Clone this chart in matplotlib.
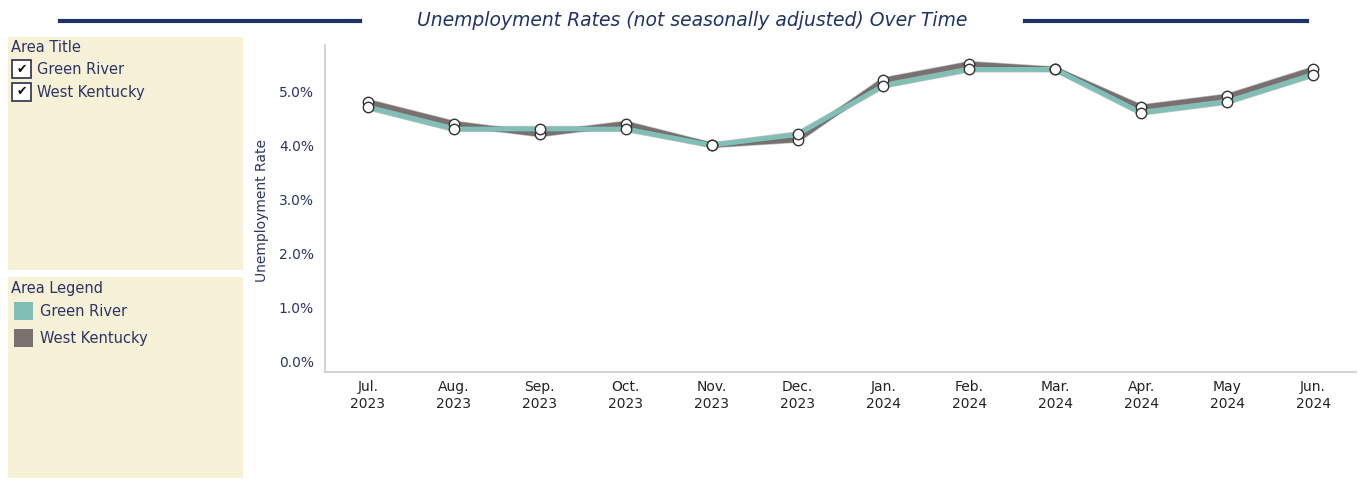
import matplotlib.pyplot as plt
from matplotlib.patches import Rectangle
from matplotlib.lines import Line2D
import matplotlib.patheffects as pe

months = ["Jul.\n2023", "Aug.\n2023", "Sep.\n2023", "Oct.\n2023", "Nov.\n2023", "Dec.\n2023",
          "Jan.\n2024", "Feb.\n2024", "Mar.\n2024", "Apr.\n2024", "May\n2024", "Jun.\n2024"]
green_river = [4.7, 4.3, 4.3, 4.3, 4.0, 4.2, 5.1, 5.4, 5.4, 4.6, 4.8, 5.3]
west_kentucky = [4.8, 4.4, 4.2, 4.4, 4.0, 4.1, 5.2, 5.5, 5.4, 4.7, 4.9, 5.4]
area_names = ["Green River", "West Kentucky"]
area_colors = ["#80bfb6", "#797171"]
yticks = [0, 1, 2, 3, 4, 5]

NAVY = "#1f3466"
TEXT = "#2a3565"
BEIGE = "#f7f1d7"

W, H = 1358, 479
fig = plt.figure(figsize=(W / 100, H / 100), dpi=100)


def fx(px):
    return px / W


def fy(py):
    return 1 - py / H


# title with rules on both sides
fig.text(fx(692), fy(21), "Unemployment Rates (not seasonally adjusted) Over Time",
         ha="center", va="center", style="italic", fontsize=13.5, color=NAVY)
fig.add_artist(Line2D([fx(60), fx(360)], [fy(21), fy(21)], color=NAVY, lw=3))
fig.add_artist(Line2D([fx(1025), fx(1307)], [fy(21), fy(21)], color=NAVY, lw=3))

# left filter / legend panels
fig.add_artist(Rectangle((fx(8), fy(270)), fx(235), fy(37) - fy(270), color=BEIGE, lw=0, zorder=-1))
fig.add_artist(Rectangle((fx(8), fy(478)), fx(235), fy(277) - fy(478), color=BEIGE, lw=0, zorder=-1))

fig.text(fx(11), fy(47), "Area Title", ha="left", va="center", fontsize=10.5, color=TEXT)
for i, name in enumerate(area_names):
    cy = 69 + i * 23
    fig.add_artist(Rectangle((fx(12), fy(cy + 9)), fx(19), fy(cy - 9) - fy(cy + 9),
                             facecolor="white", edgecolor="#3a3f55", lw=1.3))
    fig.text(fx(21.5), fy(cy), "\u2714", ha="center", va="center", fontsize=9, color="#111111")
    fig.text(fx(37), fy(cy), name, ha="left", va="center", fontsize=10.5, color=TEXT)

fig.text(fx(11), fy(289), "Area Legend", ha="left", va="center", fontsize=10.5, color=TEXT)
for i, name in enumerate(area_names):
    cy = 311 + i * 27
    fig.add_artist(Rectangle((fx(14), fy(cy + 9)), fx(19), fy(cy - 9) - fy(cy + 9),
                             facecolor=area_colors[i], lw=0))
    fig.text(fx(40), fy(cy), name, ha="left", va="center", fontsize=10.5, color=TEXT)

# main chart
ax = fig.add_axes([fx(325), fy(372), fx(1356) - fx(325), fy(45) - fy(372)])
ax.patch.set_alpha(0)
x = list(range(len(months)))
for vals, col in [(west_kentucky, area_colors[1]), (green_river, area_colors[0])]:
    ax.plot(x, vals, color=col, lw=3.5, solid_joinstyle="round",
            path_effects=[pe.Stroke(linewidth=4.5, foreground="#5a5a5a", alpha=0.35), pe.Normal()])
for vals in [west_kentucky, green_river]:
    ax.plot(x, vals, ls="none", marker="o", ms=7.5, mfc="white", mec="#333333", mew=1)

ax.set_xlim(-0.5, 11.5)
ax.set_ylim(-0.185, 5.85)
ax.set_xticks(x)
ax.set_xticklabels(months, fontsize=10, color="#222222")
ax.set_yticks(yticks)
ax.set_yticklabels([f"{v:.1f}%" for v in yticks], fontsize=10, color=TEXT)
ax.tick_params(length=0, pad=8)
ax.tick_params(axis="x", pad=6)
ax.set_ylabel("Unemployment Rate", fontsize=10, color=TEXT)
ax.yaxis.set_label_coords((269 - 325) / (1356 - 325), (372 - 210) / (372 - 45))
for s in ["top", "right"]:
    ax.spines[s].set_visible(False)
for s in ["left", "bottom"]:
    ax.spines[s].set_color("#cccccc")
    ax.spines[s].set_linewidth(1.2)

fig.savefig("out.png", dpi=100)
